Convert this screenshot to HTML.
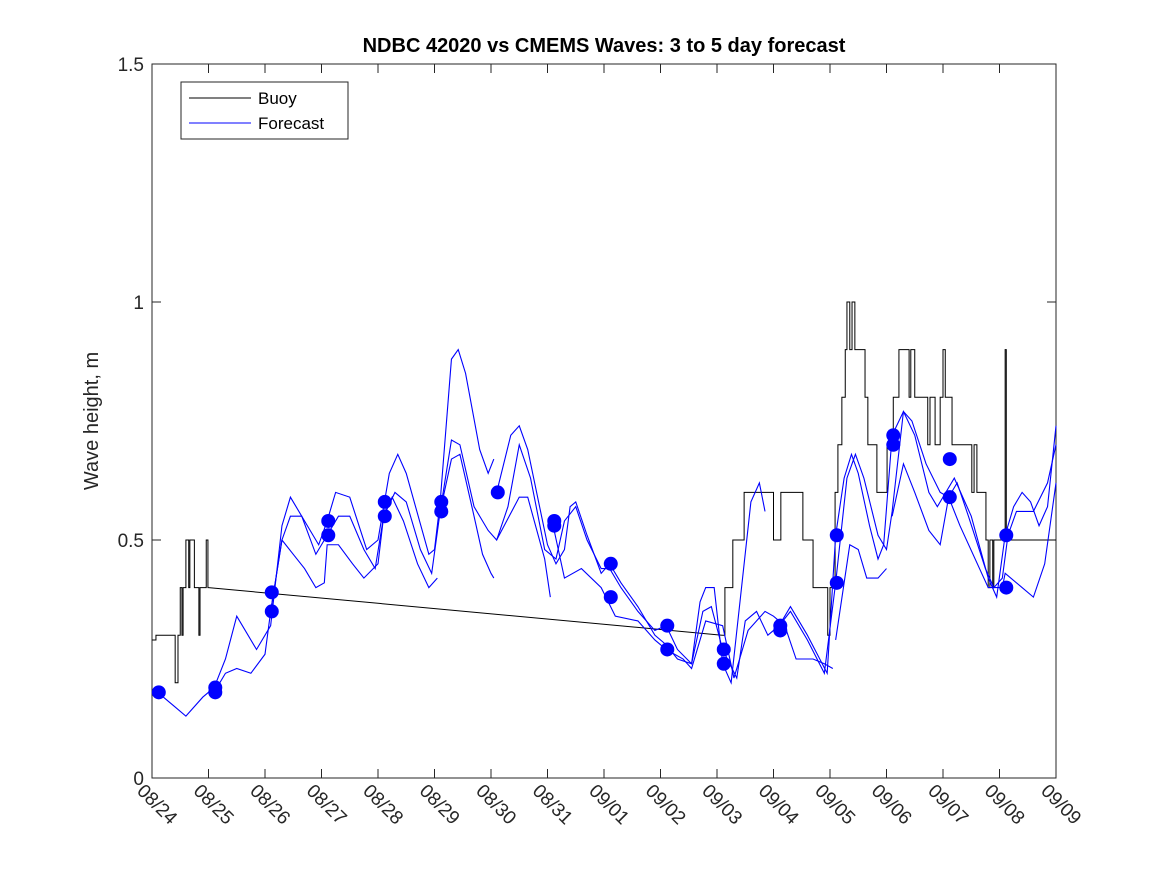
<!DOCTYPE html>
<html><head><meta charset="utf-8"><style>
body{margin:0;background:#fff}
svg{display:block;font-family:"Liberation Sans","DejaVu Sans",sans-serif}
</style></head><body>
<svg id="chart" width="1167" height="875" viewBox="0 0 1167 875" xmlns="http://www.w3.org/2000/svg">
<rect width="1167" height="875" fill="#fff"/>
<text x="604" y="52" text-anchor="middle" font-size="20" font-weight="bold" fill="#000">NDBC 42020 vs CMEMS Waves: 3 to 5 day forecast</text>
<text transform="translate(98,421) rotate(-90)" text-anchor="middle" font-size="20" fill="#262626">Wave height, m</text>
<g id="axes"></g>
<g id="series"></g>
<g id="legend">
<rect x="181" y="82" width="167" height="57" fill="#fff" stroke="#262626" stroke-width="1"/>
<line x1="189" y1="98" x2="251" y2="98" stroke="#000"/>
<text x="258" y="104" font-size="17" fill="#000">Buoy</text>
<line x1="189" y1="123" x2="251" y2="123" stroke="#0000ff"/>
<text x="258" y="129" font-size="17" fill="#000">Forecast</text>
</g>
</svg>
<script>
const xTickLabels=["08/24","08/25","08/26","08/27","08/28","08/29","08/30","08/31","09/01","09/02","09/03","09/04","09/05","09/06","09/07","09/08","09/09"];
const yTicks=[0,0.5,1,1.5];
const buoyT=[0,0.07,0.41,0.46,0.5,0.53,0.55,0.6,0.65,0.67,0.7,0.75,0.83,0.85,0.96,0.99,1.0,10.09,10.14,10.28,10.48,10.62,11.0,11.13,11.52,11.7,11.96,12.0,12.09,12.14,12.21,12.27,12.3,12.35,12.39,12.44,12.62,12.67,12.83,13.01,13.12,13.22,13.4,13.43,13.5,13.73,13.77,13.86,13.95,14.0,14.04,14.16,14.51,14.55,14.6,14.76,14.8,14.83,14.88,14.9,15.06,15.1,15.12,16];
const buoyV=[0.29,0.30,0.20,0.30,0.40,0.30,0.40,0.50,0.40,0.50,0.50,0.40,0.30,0.40,0.50,0.40,0.40,0.30,0.40,0.50,0.60,0.60,0.50,0.60,0.50,0.40,0.30,0.40,0.60,0.70,0.80,0.90,1.00,0.90,1.00,0.90,0.80,0.70,0.60,0.70,0.80,0.90,0.80,0.90,0.80,0.70,0.80,0.70,0.80,0.90,0.80,0.70,0.60,0.70,0.60,0.50,0.40,0.50,0.40,0.50,0.50,0.90,0.50,0.50];
const fcA=[[0.1,0.18],[0.4,0.15],[0.6,0.13],[0.9,0.17],[1.1,0.19],[1.3,0.25],[1.5,0.34],[1.85,0.27],[2.1,0.32],[2.3,0.53],[2.45,0.59],[2.8,0.52],[2.95,0.49],[3.1,0.54],[3.25,0.60],[3.5,0.59],[3.8,0.48],[4.0,0.50],[4.2,0.64],[4.35,0.68],[4.5,0.64],[4.9,0.47],[5.0,0.48],[5.1,0.58],[5.3,0.88],[5.42,0.90],[5.55,0.85],[5.8,0.69],[5.95,0.64],[6.05,0.67],null,[6.1,0.60],[6.35,0.72],[6.5,0.74],[6.65,0.69],[7.0,0.49],[7.15,0.45],[7.3,0.48],[7.4,0.57],[7.5,0.58],[7.7,0.51],[7.95,0.43],[8.1,0.45],[8.3,0.41],[8.6,0.36],[8.9,0.30],[9.1,0.28],[9.3,0.25],[9.55,0.24],[9.7,0.37],[9.8,0.40],[9.95,0.40],[10.1,0.24],[10.25,0.20],[10.6,0.58],[10.75,0.62],[10.85,0.56],null,[11.1,0.32],[11.3,0.36],[11.6,0.30],[11.95,0.22],[12.1,0.51],[12.25,0.63],[12.38,0.68],[12.5,0.64],[12.7,0.53],[12.85,0.46],[12.95,0.49],[13.1,0.72],[13.3,0.77],[13.5,0.72],[13.75,0.60],[13.9,0.57],[14.05,0.60],[14.2,0.63],[14.5,0.55],[14.8,0.42],[14.95,0.38],[15.1,0.51],[15.25,0.57],[15.4,0.60],[15.55,0.58],[15.7,0.53],[15.85,0.57],[16,0.74]];
const fcB=[[1.1,0.18],[1.3,0.22],[1.5,0.23],[1.75,0.22],[2.0,0.26],[2.1,0.35],[2.3,0.50],[2.45,0.55],[2.65,0.55],[2.9,0.47],[3.1,0.51],[3.3,0.55],[3.5,0.55],[3.75,0.48],[3.95,0.44],[4.1,0.55],[4.3,0.60],[4.5,0.58],[4.75,0.48],[4.95,0.43],[5.1,0.56],[5.3,0.71],[5.45,0.70],[5.7,0.57],[5.95,0.52],[6.1,0.50],[6.3,0.57],[6.5,0.70],[6.7,0.63],[6.95,0.48],[7.15,0.46],[7.3,0.54],[7.5,0.57],[7.7,0.50],[7.95,0.44],[8.1,0.44],[8.3,0.40],[8.6,0.35],[8.9,0.31],[9.1,0.32],[9.3,0.27],[9.55,0.24],[9.75,0.35],[9.9,0.36],[10.1,0.27],[10.35,0.21],[10.5,0.33],[10.7,0.35],[10.9,0.30],[11.1,0.32],[11.3,0.35],[11.6,0.29],[11.9,0.22],[12.1,0.41],[12.3,0.63],[12.45,0.68],[12.6,0.63],[12.85,0.51],[13.0,0.48],[13.1,0.56],[13.3,0.77],[13.45,0.75],[13.7,0.66],[13.95,0.60],[14.1,0.59],[14.25,0.62],[14.45,0.55],[14.75,0.44],[14.9,0.40],[15.05,0.42],[15.15,0.51],[15.3,0.56],[15.6,0.56],[15.85,0.62],[16.0,0.70]];
const fcC=[[2.1,0.35],[2.3,0.50],[2.5,0.47],[2.7,0.44],[2.9,0.40],[3.05,0.41],[3.1,0.49],[3.3,0.49],[3.55,0.45],[3.75,0.42],[4.0,0.45],[4.1,0.55],[4.25,0.59],[4.45,0.54],[4.7,0.45],[4.9,0.40],[5.05,0.42],null,[5.1,0.56],[5.3,0.67],[5.45,0.68],[5.7,0.55],[5.85,0.47],[6.0,0.43],[6.05,0.42],null,[6.1,0.50],[6.5,0.59],[6.65,0.59],[6.95,0.46],[7.05,0.38],null,[7.1,0.53],[7.3,0.42],[7.6,0.44],[7.95,0.40],[8.2,0.34],[8.6,0.33],[8.9,0.29],[9.1,0.27],[9.4,0.25],[9.55,0.23],[9.8,0.33],[10.1,0.32],[10.3,0.21],[10.55,0.31],[10.85,0.35],[11.0,0.34],[11.2,0.32],[11.4,0.25],[11.7,0.25],[11.9,0.24],[12.05,0.23],null,[12.1,0.29],[12.35,0.49],[12.5,0.48],[12.65,0.42],[12.85,0.42],[13.0,0.44],null,[13.1,0.55],[13.3,0.66],[13.5,0.60],[13.75,0.52],[13.95,0.49],[14.1,0.59],[14.3,0.53],[14.8,0.40],[15.05,0.40],[15.1,0.43],[15.4,0.40],[15.6,0.38],[15.8,0.45],[16,0.62]];
const dotT=[0.12,1.12,1.12,2.12,2.12,3.12,3.12,4.12,4.12,5.12,5.12,6.12,7.12,7.12,8.12,8.12,9.12,9.12,10.12,10.12,11.12,11.12,12.12,12.12,13.12,13.12,14.12,14.12,15.12,15.12];
const dotV=[0.18,0.18,0.19,0.39,0.35,0.54,0.51,0.58,0.55,0.58,0.56,0.60,0.54,0.53,0.45,0.38,0.32,0.27,0.27,0.24,0.32,0.31,0.51,0.41,0.72,0.70,0.67,0.59,0.51,0.40];

const NS='http://www.w3.org/2000/svg';
const L=152,R=1056,T=64,B=778;
const xs=d=>L+(R-L)*d/16;
const ys=v=>B-(B-T)*v/1.5;
function mk(tag,attrs,parent){const e=document.createElementNS(NS,tag);for(const k in attrs)e.setAttribute(k,attrs[k]);parent.appendChild(e);return e;}
const ax=document.getElementById('axes'),sr=document.getElementById('series');
let box=mk('rect',{x:L,y:T,width:R-L,height:B-T,fill:'none',stroke:'#262626','stroke-width':1},ax);


yTicks.forEach(v=>{
  const y=ys(v);
  let t=mk('path',{d:`M${L},${y}h9M${R},${y}h-9`,stroke:'#262626'},ax);
  
  
  let lb=mk('text',{x:L-8,y:y+7,'text-anchor':'end','font-size':19,fill:'#262626'},ax);
  lb.textContent=String(v);
  
  
});
xTickLabels.forEach((s,i)=>{
  const x=xs(i);
  let t=mk('path',{d:`M${x},${B}v-9M${x},${T}v9`,stroke:'#262626'},ax);
  
  
  let lb=mk('text',{transform:`translate(${x-16},${B+14}) rotate(45)`,'font-size':19,fill:'#262626'},ax);
  lb.textContent=s;
  
  
});
// buoy
let bd='';
for(let i=0;i<buoyT.length;i++){
  const x=xs(buoyT[i]),y=ys(buoyV[i]);
  if(i===0)bd+=`M${x},${y}`;
  else if(buoyT[i]-buoyT[i-1]<1)bd+=`H${x}V${y}`;
  else bd+=`L${x},${y}`;
}
let bp=mk('path',{d:bd,fill:'none',stroke:'#000','stroke-width':1},sr);


[fcA,fcB,fcC].forEach((s,k)=>{
  let d='',pen=false;
  s.forEach(p=>{if(!p){pen=false;return;}d+=(pen?'L':'M')+xs(p[0])+','+ys(p[1]);pen=true;});
  let p=mk('path',{d:d,fill:'none',stroke:'#0000ff','stroke-width':1.1},sr);
  
  
});
dotT.forEach((t,i)=>{
  let c=mk('circle',{cx:xs(t),cy:ys(dotV[i]),r:7,fill:'#0000ff'},sr);
  
  
});
</script>
</body></html>
